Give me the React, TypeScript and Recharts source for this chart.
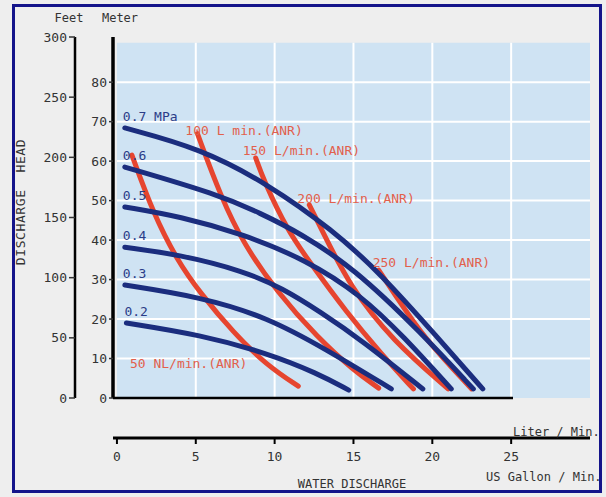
import React from "react";
import { LineChart, Line, XAxis, YAxis, ReferenceArea, ReferenceLine } from "recharts";

// ---- axis ticks ----
const literTicks = [0, 5, 10, 15, 20, 25];
const gallonTicks = [0, 2, 4, 6];
const meterTicks = [0, 10, 20, 30, 40, 50, 60, 70, 80];
const feetTicks = [0, 50, 100, 150, 200, 250, 300];
const gridX = [5, 10, 15, 20, 25];
const gridY = [10, 20, 30, 40, 50, 60, 70, 80];

// ---- pressure curves (x: L/min, y: m) ----
const pressureLabels = ["0.7 MPa", "0.6", "0.5", "0.4", "0.3", "0.2"];
const p07 = [
  { x: 0.5, y: 68.4 }, { x: 5.3, y: 63.2 }, { x: 9.5, y: 54.4 }, { x: 13.7, y: 42.5 },
  { x: 16.7, y: 31.6 }, { x: 20.3, y: 15.5 }, { x: 23.2, y: 2.3 },
];
const p06 = [
  { x: 0.5, y: 58.5 }, { x: 6.4, y: 51.6 }, { x: 9.1, y: 46.8 }, { x: 11.6, y: 41.8 },
  { x: 15.0, y: 33.0 }, { x: 19.3, y: 16.5 }, { x: 22.6, y: 2.3 },
];
const p05 = [
  { x: 0.5, y: 48.4 }, { x: 4.0, y: 46.0 }, { x: 8.0, y: 41.5 }, { x: 12.0, y: 35.0 },
  { x: 15.5, y: 26.0 }, { x: 18.2, y: 15.5 }, { x: 21.2, y: 2.3 },
];
const p04 = [
  { x: 0.5, y: 38.2 }, { x: 4.0, y: 36.3 }, { x: 8.0, y: 32.2 }, { x: 10.5, y: 27.8 },
  { x: 12.9, y: 21.8 }, { x: 15.5, y: 14.7 }, { x: 19.4, y: 2.3 },
];
const p03 = [
  { x: 0.5, y: 28.6 }, { x: 5.3, y: 25.6 }, { x: 9.5, y: 20.5 }, { x: 13.2, y: 12.5 },
  { x: 17.4, y: 2.3 },
];
const p02 = [
  { x: 0.6, y: 19.0 }, { x: 5.3, y: 16.0 }, { x: 9.5, y: 11.4 }, { x: 12.7, y: 6.3 },
  { x: 14.7, y: 2.0 },
];

// ---- air consumption curves ----
const airLabels = ["50 NL/min.(ANR)", "100 L min.(ANR)", "150 L/min.(ANR)", "200 L/min.(ANR)", "250 L/min.(ANR)"];
const a50 = [
  { x: 0.95, y: 61.5 }, { x: 2.3, y: 46.8 }, { x: 3.8, y: 35.0 }, { x: 5.3, y: 26.5 },
  { x: 7.4, y: 16.5 }, { x: 9.5, y: 8.3 }, { x: 11.5, y: 3.0 },
];
const a100 = [
  { x: 5.1, y: 67.0 }, { x: 6.6, y: 50.9 }, { x: 8.0, y: 39.2 }, { x: 10.2, y: 26.6 },
  { x: 12.7, y: 15.4 }, { x: 15.0, y: 7.0 }, { x: 16.6, y: 2.5 },
];
const a150 = [
  { x: 8.8, y: 60.8 }, { x: 9.3, y: 55.2 }, { x: 10.8, y: 42.5 }, { x: 12.3, y: 34.0 },
  { x: 14.5, y: 22.0 }, { x: 16.8, y: 11.0 }, { x: 18.8, y: 2.3 },
];
const a200 = [
  { x: 12.2, y: 48.9 }, { x: 12.9, y: 43.3 }, { x: 14.8, y: 28.0 }, { x: 17.5, y: 14.5 },
  { x: 21.0, y: 2.3 },
];
const a250 = [
  { x: 16.6, y: 32.4 }, { x: 17.5, y: 27.0 }, { x: 19.5, y: 15.0 }, { x: 22.5, y: 2.3 },
];

const pressureSeries = [p07, p06, p05, p04, p03, p02];
const airSeries = [a50, a100, a150, a200, a250];

// ---- styles ----
const FONT = "'DejaVu Sans Mono', 'Liberation Mono', monospace";
const BLUE = "#1b2d7e";
const BLUE_TEXT = "#2b3c88";
const RED = "#e6452f";
const RED_TEXT = "#e2604c";
const PLOT_BG = "#cfe3f3";
const PAGE_BG = "#eeeeee";
const L_PER_GAL = 3.785411784;
const X_MIN = -0.25;
const X_MAX = 30;
const M_MAX = 91.44;
const airLabelOffsets = [
  [-2, 213],
  [-12, 2],
  [-13, -3],
  [-12, -2],
  [-6, -3],
];

function getXY(props: any) {
  const vb = props.viewBox || {};
  const x = props.x !== undefined ? props.x : vb.x;
  const y = props.y !== undefined ? props.y : vb.y;
  return { x: Number(x), y: Number(y) };
}

const makeLabel = (text: string, dx: number, dy: number, color: string) => (props: any) => {
  if (props.index !== 0) return <g />;
  const { x, y } = getXY(props);
  return (
    <text x={x + dx} y={y + dy} fill={color} fontSize={13} fontFamily={FONT}>
      {text}
    </text>
  );
};

export default function App() {
  return (
    <div style={{ position: "absolute", left: 0, top: 0, width: 606, height: 497, background: PAGE_BG, overflow: "hidden" }}>
      <LineChart
        width={606}
        height={497}
        margin={{ top: 37, right: 16, bottom: 23, left: 12 }}
      >
        <XAxis
          xAxisId="L"
          type="number"
          dataKey="x"
          domain={[X_MIN, X_MAX]}
          ticks={literTicks}
          allowDataOverflow
          height={36}
          axisLine={{ stroke: "#000", strokeWidth: 3 }}
          tickLine={{ stroke: "#000", strokeWidth: 2 }}
          tickSize={6}
          tickMargin={8}
          tick={{ fill: "#333", fontSize: 13, fontFamily: FONT }}
        />
        <XAxis
          xAxisId="G"
          type="number"
          domain={[X_MIN / L_PER_GAL, X_MAX / L_PER_GAL]}
          ticks={gallonTicks}
          allowDataOverflow
          height={40}
          axisLine={{ stroke: "#000", strokeWidth: 2.5, strokeDasharray: "400 1000" }}
          tickLine={{ stroke: "#000", strokeWidth: 2 }}
          tickSize={8}
          tickMargin={12}
          tick={{ fill: "#333", fontSize: 13, fontFamily: FONT }}
        />
        <YAxis
          yAxisId="a_meter"
          type="number"
          domain={[0, M_MAX]}
          ticks={meterTicks}
          allowDataOverflow
          width={38}
          axisLine={{ stroke: "#000", strokeWidth: 3.5 }}
          tickLine={{ stroke: "#333", strokeWidth: 1.5 }}
          tickSize={4}
          tickMargin={2}
          tick={{ fill: "#333", fontSize: 13, fontFamily: FONT }}
        />
        <YAxis
          yAxisId="b_feet"
          type="number"
          domain={[0, 300]}
          ticks={feetTicks}
          allowDataOverflow
          width={63}
          axisLine={{ stroke: "#000", strokeWidth: 2.5 }}
          tickLine={{ stroke: "#333", strokeWidth: 1.5 }}
          tickSize={6}
          tickMargin={2}
          tick={{ fill: "#333", fontSize: 13, fontFamily: FONT }}
        />
        <ReferenceArea
          xAxisId="L"
          yAxisId="a_meter"
          x1={0}
          x2={X_MAX}
          y1={0}
          y2={90}
          fill={PLOT_BG}
          fillOpacity={1}
          stroke="none"
          ifOverflow="visible"
        />
        {gridX.map((v) => (
          <ReferenceLine
            key={"gx" + v}
            xAxisId="L"
            yAxisId="a_meter"
            segment={[{ x: v, y: 0 }, { x: v, y: 90 }]}
            stroke="#ffffff"
            strokeWidth={2}
          />
        ))}
        {gridY.map((v) => (
          <ReferenceLine
            key={"gy" + v}
            xAxisId="L"
            yAxisId="a_meter"
            segment={[{ x: 0, y: v }, { x: X_MAX, y: v }]}
            stroke="#ffffff"
            strokeWidth={2}
          />
        ))}
        {airSeries.map((d, i) => (
          <Line
            key={"a" + i}
            xAxisId="L"
            yAxisId="a_meter"
            data={d}
            dataKey="y"
            type="basis"
            stroke={RED}
            strokeWidth={5}
            strokeLinecap="round"
            dot={false}
            activeDot={false}
            isAnimationActive={false}
            label={makeLabel(airLabels[i], airLabelOffsets[i][0], airLabelOffsets[i][1], RED_TEXT)}
          />
        ))}
        {pressureSeries.map((d, i) => (
          <Line
            key={"p" + i}
            xAxisId="L"
            yAxisId="a_meter"
            data={d}
            dataKey="y"
            type="basis"
            stroke={BLUE}
            strokeWidth={5}
            strokeLinecap="round"
            dot={false}
            activeDot={false}
            isAnimationActive={false}
            label={makeLabel(pressureLabels[i], -2, -7, BLUE_TEXT)}
          />
        ))}
      </LineChart>
      <svg
        width={606}
        height={497}
        style={{ position: "absolute", left: 0, top: 0, pointerEvents: "none" }}
        fontFamily={FONT}
      >
        <text x={69} y={22} textAnchor="middle" fontSize={12} fill="#333">Feet</text>
        <text x={120} y={22} textAnchor="middle" fontSize={12} fill="#333">Meter</text>
        <text
          x={0}
          y={0}
          transform="translate(25,202) rotate(-90)"
          textAnchor="middle"
          fontSize={13}
          letterSpacing={0.6}
          fill="#333"
          style={{ whiteSpace: "pre" }}
        >
          {"DISCHARGE  HEAD"}
        </text>
        <text x={513} y={436} fontSize={12} fill="#333">Liter / Min.</text>
        <text x={486} y={481} fontSize={12} fill="#333">US Gallon / Min.</text>
        <text x={352} y={488} textAnchor="middle" fontSize={12} fill="#333">WATER DISCHARGE</text>
      </svg>
      <div
        style={{
          position: "absolute",
          left: 12,
          top: 4,
          width: 590,
          height: 489,
          border: "3px solid #14148a",
          boxSizing: "border-box",
          pointerEvents: "none",
        }}
      />
    </div>
  );
}
